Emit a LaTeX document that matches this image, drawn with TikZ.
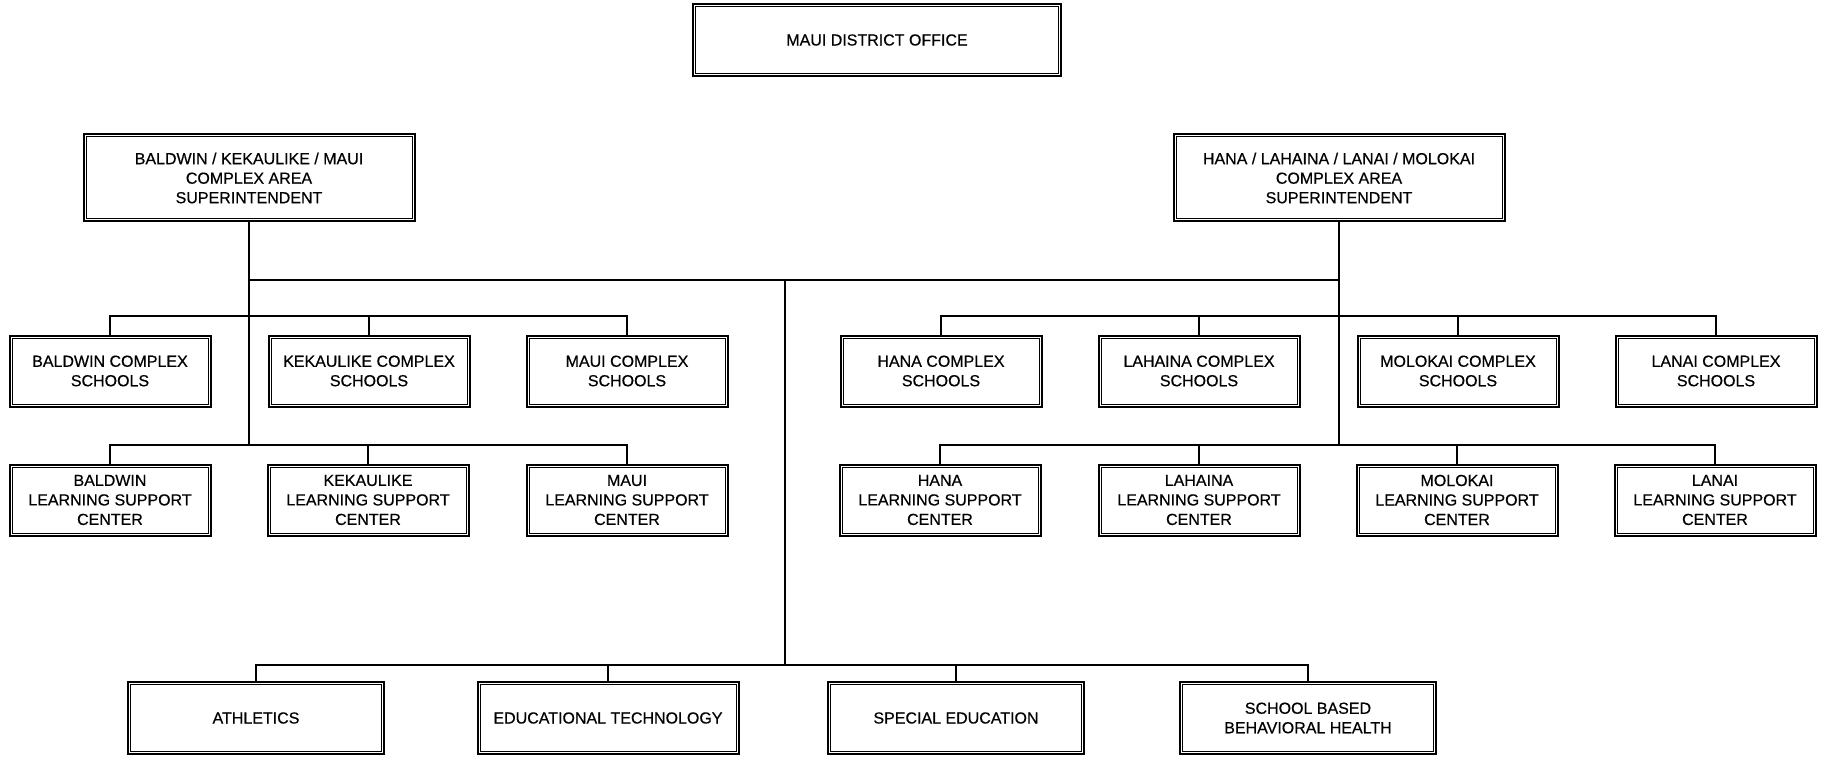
\documentclass[tikz,border=0pt]{standalone}
\usepackage{fontspec}
\setmainfont{Liberation Sans}
\newfontfamily\chartfont{Liberation Sans}[FakeBold=0.5]
\usetikzlibrary{positioning, calc}

\tikzset{
	unit/.style={draw, line width=2pt, align=center, inner sep=2pt,
		font=\chartfont\fontsize{16}{19.5}\selectfont,
		append after command={\pgfextra{\let\boxnode\tikzlastnode
			\draw[line width=1pt] ($(\boxnode.south west)+(3.5pt,3.5pt)$) rectangle ($(\boxnode.north east)+(-3.5pt,-3.5pt)$);}}},
	areabox/.style={unit, minimum width=331pt, minimum height=87pt},
	schoolbox/.style={unit, minimum width=201pt, minimum height=71pt},
	staffbox/.style={unit, minimum width=256pt, minimum height=72pt},
	link/.style={line width=1.5pt}
}

\begin{document}
\begin{tikzpicture}[x=1pt, y=-1pt]
	\useasboundingbox (0,0) rectangle (1822,759);

	\node[unit, minimum width=368pt, minimum height=72pt] (dist) at (877,40) {MAUI DISTRICT OFFICE};

	\node[areabox] (lsup) at (249,178) {BALDWIN / KEKAULIKE / MAUI\\COMPLEX AREA\\SUPERINTENDENT};
	\node[areabox] (rsup) at (1339,178) {HANA / LAHAINA / LANAI / MOLOKAI\\COMPLEX AREA\\SUPERINTENDENT};

	% complex schools
	\node[schoolbox] (bsch) at (110,371) {BALDWIN COMPLEX\\SCHOOLS};
	\node[schoolbox] (ksch) at (369,371) {KEKAULIKE COMPLEX\\SCHOOLS};
	\node[schoolbox] (msch) at (627,371) {MAUI COMPLEX\\SCHOOLS};
	\node[schoolbox] (hsch) at (941,371) {HANA COMPLEX\\SCHOOLS};
	\node[schoolbox] (lhsch) at (1199,371) {LAHAINA COMPLEX\\SCHOOLS};
	\node[schoolbox] (mosch) at (1458,371) {MOLOKAI COMPLEX\\SCHOOLS};
	\node[schoolbox] (lnsch) at (1716,371) {LANAI COMPLEX\\SCHOOLS};

	% learning support centers
	\node[schoolbox] (blsc) at (110,500) {BALDWIN\\LEARNING SUPPORT\\CENTER};
	\node[schoolbox] (klsc) at (368,500) {KEKAULIKE\\LEARNING SUPPORT\\CENTER};
	\node[schoolbox] (mlsc) at (627,500) {MAUI\\LEARNING SUPPORT\\CENTER};
	\node[schoolbox] (hlsc) at (940,500) {HANA\\LEARNING SUPPORT\\CENTER};
	\node[schoolbox] (lhlsc) at (1199,500) {LAHAINA\\LEARNING SUPPORT\\CENTER};
	\node[schoolbox] (molsc) at (1457,500) {MOLOKAI\\LEARNING SUPPORT\\CENTER};
	\node[schoolbox] (lnlsc) at (1715,500) {LANAI\\LEARNING SUPPORT\\CENTER};

	% district programs
	\node[staffbox] (ath) at (256,718) {ATHLETICS};
	\node[staffbox, minimum width=261pt] (edt) at (608,718) {EDUCATIONAL TECHNOLOGY};
	\node[staffbox] (sped) at (956,718) {SPECIAL EDUCATION};
	\node[staffbox] (sbbh) at (1308,718) {SCHOOL BASED\\BEHAVIORAL HEALTH};

	\coordinate (mid) at (785,280);
	\coordinate (sbus) at (785,665);
	\coordinate (ltop) at (249,316);
	\coordinate (llow) at (249,445);
	\coordinate (rtop) at (1339,316);
	\coordinate (rlow) at (1339,445);

	% left area
	\draw[link] (lsup.south) -- (llow);
	\draw[link] (bsch.north) |- (ltop) -| (msch.north);
	\draw[link] (ksch.north) -- (ksch.north |- ltop);
	\draw[link] (blsc.north) |- (llow) -| (mlsc.north);
	\draw[link] (klsc.north) -- (klsc.north |- llow);

	% right area
	\draw[link] (rsup.south) -- (rlow);
	\draw[link] (hsch.north) |- (rtop) -| (lnsch.north);
	\draw[link] (lhsch.north) -- (lhsch.north |- rtop);
	\draw[link] (mosch.north) -- (mosch.north |- rtop);
	\draw[link] (hlsc.north) |- (rlow) -| (lnlsc.north);
	\draw[link] (lhlsc.north) -- (lhlsc.north |- rlow);
	\draw[link] (molsc.north) -- (molsc.north |- rlow);

	% programs
	\draw[link] (lsup.south |- mid) -- (rsup.south |- mid);
	\draw[link] (mid) -- (sbus);
	\draw[link] (ath.north) |- (sbus) -| (sbbh.north);
	\draw[link] (edt.north) -- (edt.north |- sbus);
	\draw[link] (sped.north) -- (sped.north |- sbus);
\end{tikzpicture}
\end{document}
